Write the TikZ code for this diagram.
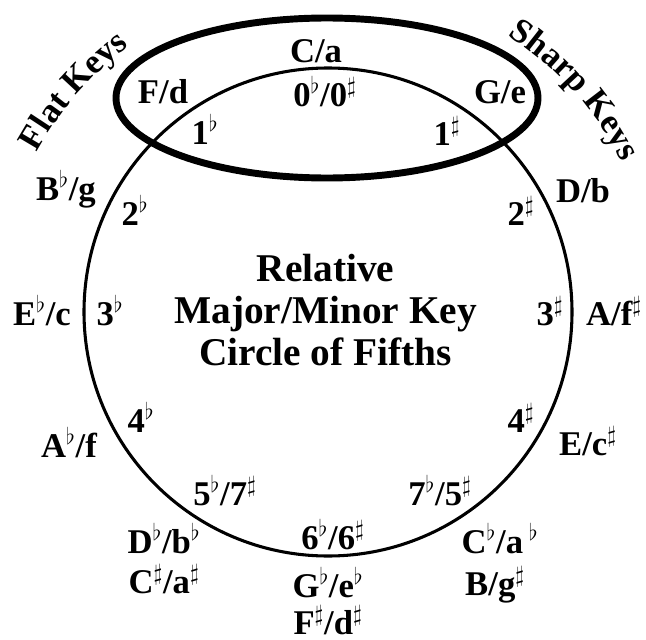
\documentclass[tikz,border=0pt]{standalone}
\usepackage{fontspec}
\setmainfont{Liberation Serif}
\usetikzlibrary{decorations.text}
\newcommand{\flt}{\ensuremath{^\flat}}
\newcommand{\shp}{\ensuremath{^\sharp}}
\begin{document}
\begin{tikzpicture}[x=0.75pt,y=0.75pt,
  lbl/.style={font=\bfseries\fontsize{26}{30}\selectfont, inner sep=0pt, anchor=base},
  ttl/.style={font=\bfseries\fontsize{29.5}{31.5}\selectfont, inner sep=0pt, align=center},
  ring/.style={line width=2.3pt},
  oval/.style={line width=5.2pt},
  arctext/.style={decorate, decoration={text along path, text align=center, text={#1}}}]
\useasboundingbox (0,0) rectangle (646,-639);
\coordinate (c) at (328,-312);
\draw[ring] (c) circle[radius=244];
\draw[oval] (327,-98) ellipse[x radius=211, y radius=80];
% curved titles
\path[arctext={|\bfseries\fontsize{26}{30}\selectfont|Flat Keys}] (c) ++(174:332) arc[start angle=174, end angle=104, radius=332];
\path[arctext={|\bfseries\fontsize{26}{30}\selectfont|Sharp Keys}] (c) ++(77:330) arc[start angle=77, end angle=7, radius=330];
% centre title
\node[ttl] (title) at (325.5,-310) {Relative\\Major/Minor Key\\Circle of Fifths};
% keys
\node[lbl] (ca) at (316,-62.5) {C/a};
\node[lbl] (n0) at (325,-106) {0\flt/0\shp};
\node[lbl] (fd) at (163,-103.5) {F/d};
\node[lbl] (f1) at (205,-144) {1\flt};
\node[lbl] (ge) at (500,-103.5) {G/e};
\node[lbl] (s1) at (447,-145) {1\shp};
\node[lbl] (bg) at (66,-200) {B\flt/g};
\node[lbl] (f2) at (135,-225) {2\flt};
\node[lbl] (db) at (583,-202) {D/b};
\node[lbl] (s2) at (521,-225) {2\shp};
\node[lbl] (ec) at (42,-325) {E\flt/c};
\node[lbl] (f3) at (110,-325) {3\flt};
\node[lbl] (s3) at (550,-325) {3\shp};
\node[lbl] (af) at (614,-325) {A/f\shp};
\node[lbl] (f4) at (141,-432) {4\flt};
\node[lbl] (s4) at (521,-432) {4\shp};
\node[lbl] (abf) at (69,-457) {A\flt/f};
\node[lbl] (ecs) at (588,-455) {E/c\shp};
\node[lbl] (n57) at (225,-505) {5\flt/7\shp};
\node[lbl] (n75) at (440,-505) {7\flt/5\shp};
\node[lbl] (dbb) at (164,-553) {D\flt/b\flt};
\node[lbl] (csa) at (164,-593) {C\shp/a\shp};
\node[lbl] (n66) at (333,-549) {6\flt/6\shp};
\node[lbl] (gbe) at (328,-597) {G\flt/e\flt};
\node[lbl] (fsd) at (328,-634) {F\shp/d\shp};
\node[lbl] (cba) at (500,-553) {C\flt/a\,\flt};
\node[lbl] (bgs) at (495,-595) {B/g\shp};
\end{tikzpicture}
\end{document}
